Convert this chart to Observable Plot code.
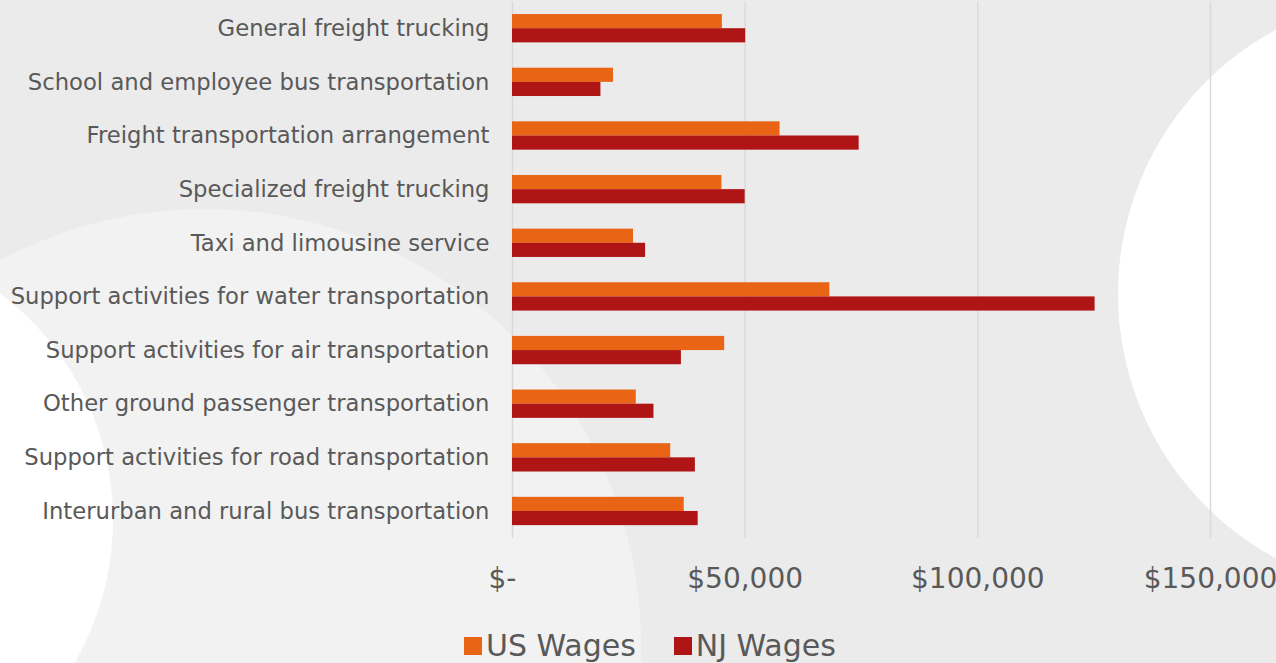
<!DOCTYPE html>
<html>
<head>
<meta charset="utf-8">
<script src="https://cdn.jsdelivr.net/npm/d3@7"></script>
<script src="https://cdn.jsdelivr.net/npm/@observablehq/plot@0.6"></script>
<style>
  html, body { margin: 0; padding: 0; background: #ebebeb; overflow: hidden; }
  #wrap { position: relative; width: 1276px; height: 663px; overflow: hidden; }
  .circ { position: absolute; border-radius: 50%; }
  #chart { position: relative; z-index: 1; }
  #legend { position: relative; z-index: 1; display: flex; align-items: center; height: 30px; line-height: 30px;
    margin-top: 3px; padding-left: 464px; font-family: "DejaVu Sans", sans-serif; font-size: 30px; color: #595959; }
  #legend .item { display: inline-flex; align-items: center; margin-right: 38px; }
  #legend .sw { width: 18px; height: 18px; margin-right: 4px; display: inline-block; }
</style>
</head>
<body>
<div id="wrap">
  <div class="circ" style="left:-231px;top:209px;width:872px;height:872px;background:#f2f2f2"></div>
  <div class="circ" style="left:-455px;top:236px;width:568px;height:568px;background:#ffffff"></div>
  <div class="circ" style="left:1118px;top:-6px;width:600px;height:600px;background:#ffffff"></div>
  <div id="chart"></div>
  <div id="legend"></div>
</div>
<script>
const categories = [
  "General freight trucking",
  "School and employee bus transportation",
  "Freight transportation arrangement",
  "Specialized freight trucking",
  "Taxi and limousine service",
  "Support activities for water transportation",
  "Support activities for air transportation",
  "Other ground passenger transportation",
  "Support activities for road transportation",
  "Interurban and rural bus transportation"
];
const series = ["US Wages", "NJ Wages"];
const colors = ["#E96414", "#B01515"];
const usWages = [45100, 21700, 57500, 45000, 26000, 68200, 45600, 26600, 34000, 36900];
const njWages = [50100, 19000, 74500, 50000, 28600, 125200, 36300, 30400, 39300, 39900];
const xTicks = [0, 50000, 100000, 150000];

const usRows = categories.map((c, i) => ({category: c, series: series[0], value: usWages[i]}));
const njRows = categories.map((c, i) => ({category: c, series: series[1], value: njWages[i]}));

const fmt = d => d === 0 ? "$-" : "$" + d3.format(",")(d);
const H = 628;
const plot = Plot.plot({
  width: 1276,
  height: H,
  marginLeft: 512,
  marginRight: 66,
  marginTop: 1.4,
  marginBottom: H - 537.8,
  style: {background: "transparent", fontFamily: "'DejaVu Sans', sans-serif", color: "#595959"},
  x: {domain: [0, 150000], label: null},
  y: {domain: categories, paddingInner: 0.472, paddingOuter: 0.236, round: false, label: null},
  color: {domain: series, range: colors},
  marks: [
    Plot.gridX(xTicks, {stroke: "#d9d9d9", strokeOpacity: 1, strokeWidth: 1.5}),
    Plot.barX(usRows, {x: "value", y: "category", fill: "series", insetBottom: 14.15}),
    Plot.barX(njRows, {x: "value", y: "category", fill: "series", insetTop: 14.15}),
    Plot.axisX(xTicks.slice(0, 1), {tickSize: 0, tickPadding: 30, fontSize: 28, fill: "#595959", label: null,
      dx: -10, tickFormat: fmt}),
    Plot.axisX(xTicks.slice(1), {tickSize: 0, tickPadding: 30, fontSize: 28, fill: "#595959", label: null,
      tickFormat: fmt}),
    Plot.axisY({tickSize: 0, tickPadding: 23, fontSize: 22.7, fill: "#595959", label: null})
  ]
});
document.getElementById("chart").appendChild(plot);

const legend = document.getElementById("legend");
series.forEach((s, i) => {
  const item = document.createElement("span");
  item.className = "item";
  const sw = document.createElement("span");
  sw.className = "sw";
  sw.style.background = colors[i];
  item.appendChild(sw);
  item.appendChild(document.createTextNode(s));
  legend.appendChild(item);
});
</script>
</body>
</html>
